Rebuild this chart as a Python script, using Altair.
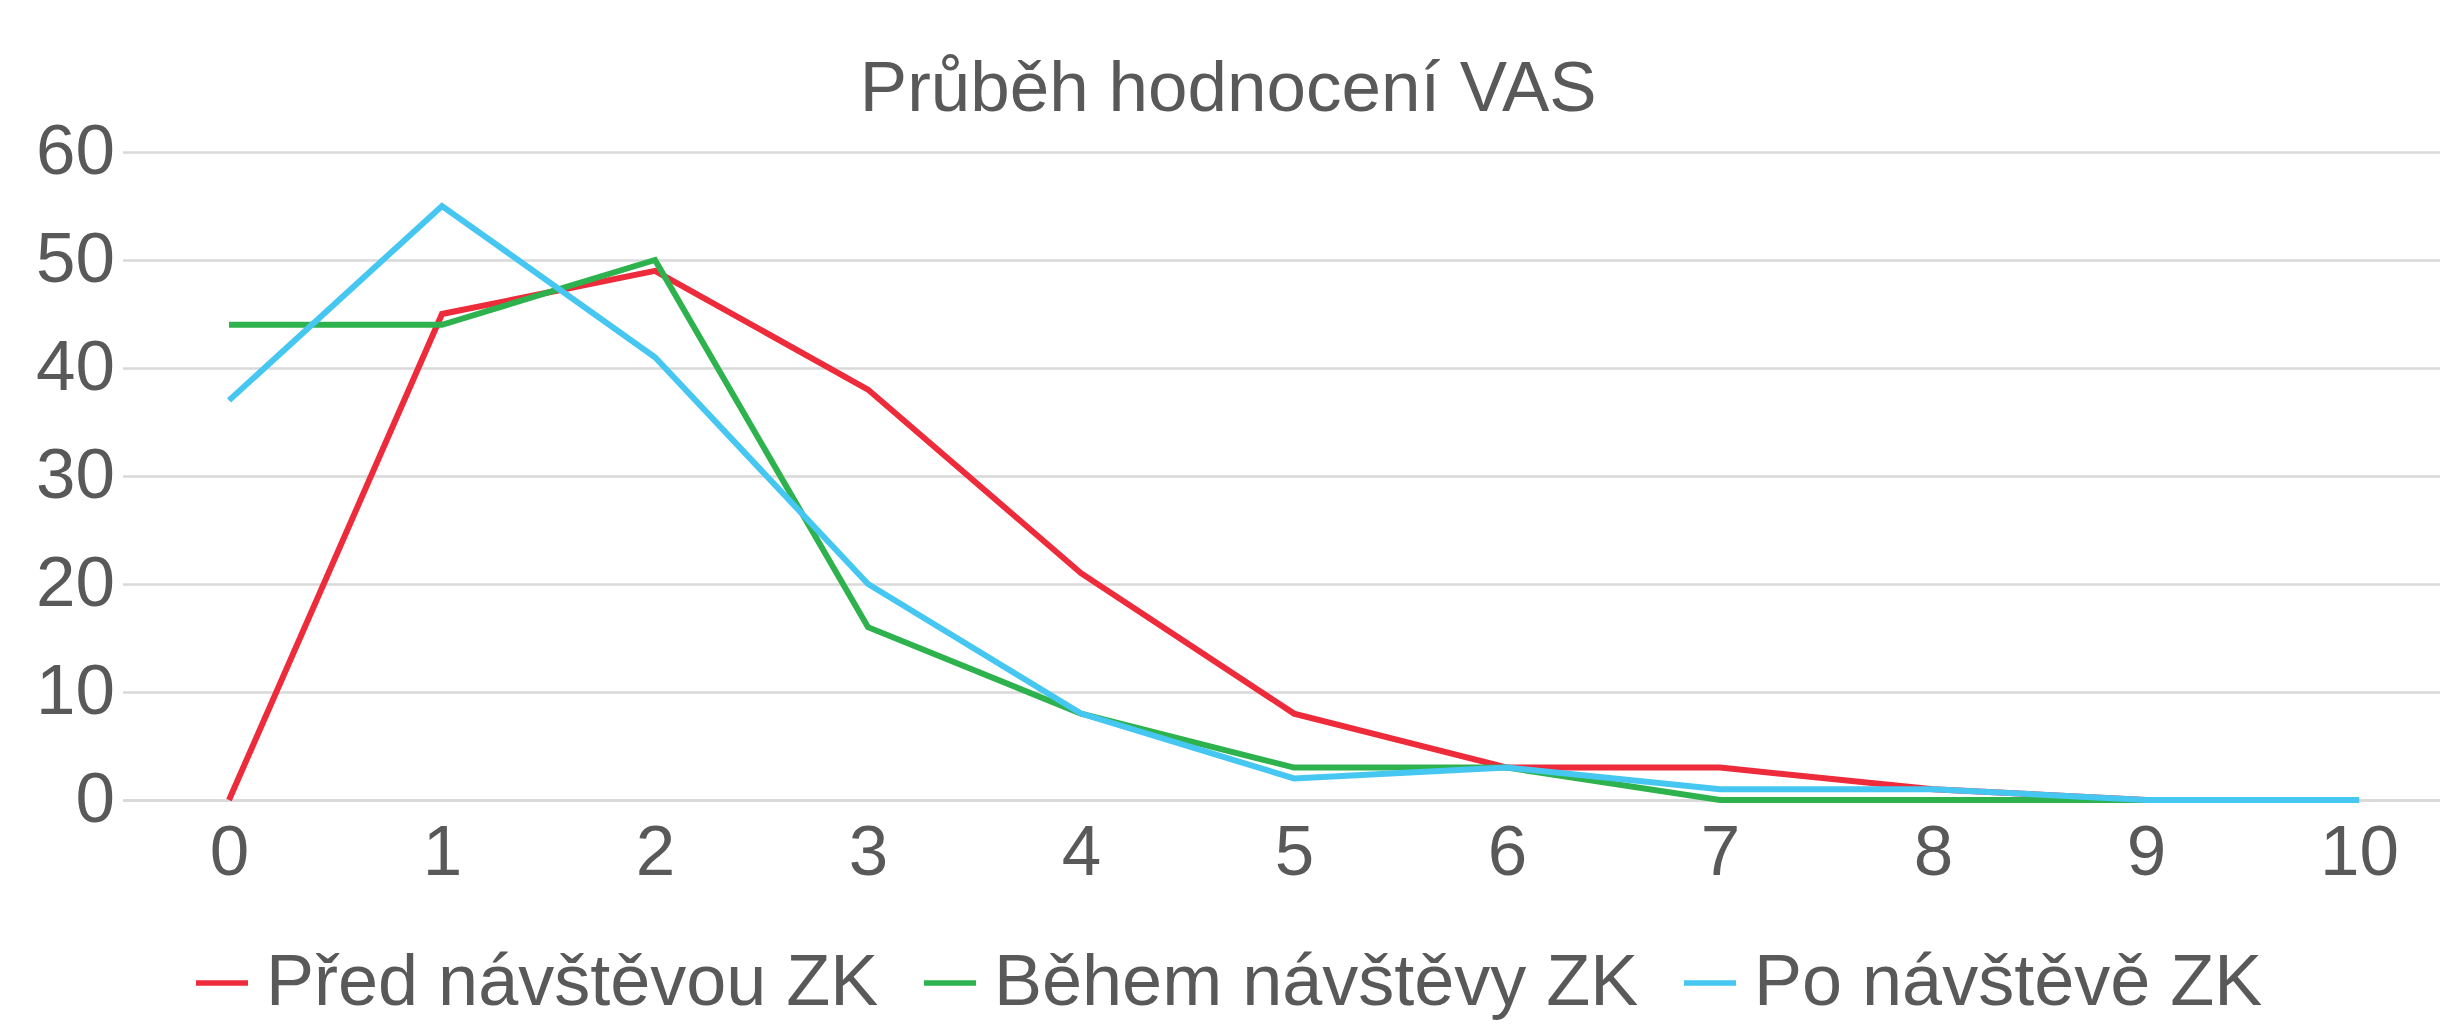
import altair as alt
import pandas as pd

categories = [0, 1, 2, 3, 4, 5, 6, 7, 8, 9, 10]
series_names = ["Před návštěvou ZK", "Během návštěvy ZK", "Po návštěvě ZK"]
pred = [0, 45, 49, 38, 21, 8, 3, 3, 1, 0, 0]
behem = [44, 44, 50, 16, 8, 3, 3, 0, 0, 0, 0]
po = [37, 55, 41, 20, 8, 2, 3, 1, 1, 0, 0]
colors = ["#EE2B3B", "#2DB24E", "#45C7F2"]
y_ticks = [0, 10, 20, 30, 40, 50, 60]

rows = []
for name, vals in zip(series_names, [pred, behem, po]):
    for c, v in zip(categories, vals):
        rows.append({"VAS": c, "Počet": v, "Série": name, "ord": series_names.index(name)})
df = pd.DataFrame(rows)

TEXT = "#595959"
GRID = "#D9D9D9"
FONT = "Liberation Sans"

chart = alt.Chart(df).mark_line(strokeWidth=6).encode(
    x=alt.X("VAS:Q",
            scale=alt.Scale(domain=[-0.5, 10.38], nice=False, zero=False),
            axis=alt.Axis(values=categories, title=None, grid=False, ticks=False,
                          labelFontSize=71, labelColor=TEXT, labelFont=FONT,
                          labelPadding=18, domainColor=GRID, domainWidth=2.5,
                          labelFlush=False, labelOverlap=False)),
    y=alt.Y("Počet:Q",
            scale=alt.Scale(domain=[0, 60], nice=False),
            axis=alt.Axis(values=y_ticks, title=None, domain=False, ticks=False,
                          gridColor=GRID, gridWidth=2.5,
                          labelFontSize=71, labelColor=TEXT, labelFont=FONT,
                          labelPadding=8)),
    color=alt.Color("Série:N",
                    scale=alt.Scale(domain=series_names, range=colors),
                    legend=alt.Legend(orient="none", legendX=63.5, legendY=795,
                                      direction="horizontal", title=None,
                                      symbolType="stroke", symbolSize=2700,
                                      symbolStrokeWidth=5.5, labelFontSize=72,
                                      labelColor=TEXT, labelFont=FONT, labelLimit=2000,
                                      labelOffset=8, columnPadding=34)),
    order=alt.Order("ord:Q"),
    detail="Série:N",
).properties(
    width=2317.5,
    height=648,
    title=alt.TitleParams("Průběh hodnocení VAS", fontSize=71, color=TEXT, font=FONT,
                          fontWeight="normal", anchor="middle", dx=-53, dy=40, offset=30),
    autosize=alt.AutoSizeParams(type="none"),
    padding={"left": 114.5, "top": 144, "right": 0, "bottom": 226},
).configure_view(stroke=None)

chart.save("out.html", embed_options={"renderer": "svg", "actions": False})
